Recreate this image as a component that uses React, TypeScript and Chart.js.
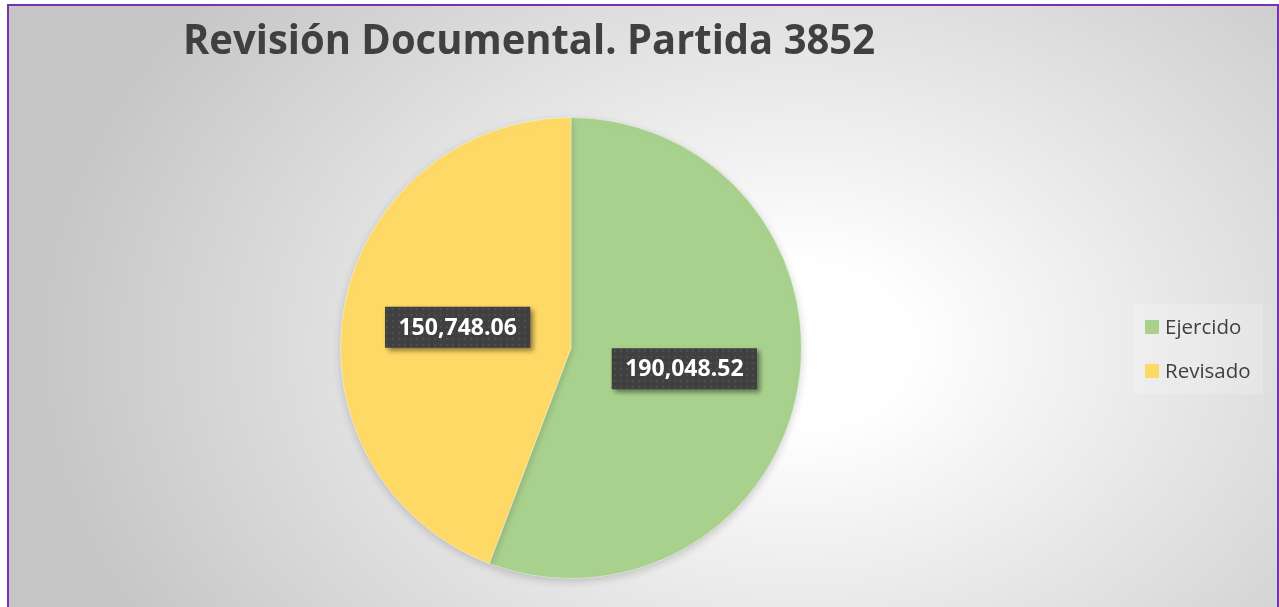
import React, { useEffect, useRef } from "react";
import { Chart, registerables } from "chart.js";

Chart.register(...registerables);

const TITLE = "Revisión Documental. Partida 3852";
const CATEGORIES = ["Ejercido", "Revisado"];
const VALUES = [190048.52, 150748.06];
const COLORS = ["#A9D18E", "#FFD966"];

const fmt = (v: number) =>
  v.toLocaleString("en-US", { minimumFractionDigits: 2, maximumFractionDigits: 2 });

function makeDotPattern(ctx: CanvasRenderingContext2D) {
  const c = document.createElement("canvas");
  c.width = 6;
  c.height = 6;
  const g = c.getContext("2d")!;
  g.fillStyle = "#404040";
  g.fillRect(0, 0, 6, 6);
  g.fillStyle = "#4d4d4d";
  g.fillRect(2, 2, 2, 2);
  return ctx.createPattern(c, "repeat")!;
}

const shadowPlugin = {
  id: "pieShadow",
  beforeDatasetsDraw(chart: any) {
    const ctx: CanvasRenderingContext2D = chart.ctx;
    ctx.save();
    ctx.shadowColor = "rgba(0,0,0,0.18)";
    ctx.shadowBlur = 8;
    ctx.shadowOffsetX = 0;
    ctx.shadowOffsetY = 3;
  },
  afterDatasetsDraw(chart: any) {
    chart.ctx.restore();
  },
};

const overlayPlugin = {
  id: "overlay",
  afterDatasetsDraw(chart: any) {
    const ctx: CanvasRenderingContext2D = chart.ctx;
    const meta = chart.getDatasetMeta(0);
    const pattern = makeDotPattern(ctx);
    meta.data.forEach((arc: any, i: number) => {
      const p = arc.getCenterPoint();
      const txt = fmt(VALUES[i]);
      ctx.save();
      ctx.font = "bold 23px 'Open Sans'";
      const w = ctx.measureText(txt).width;
      const bw = w + 27;
      const bh = 41;
      ctx.shadowColor = "rgba(0,0,0,0.45)";
      ctx.shadowBlur = 5;
      ctx.shadowOffsetX = 3;
      ctx.shadowOffsetY = 3;
      ctx.fillStyle = pattern;
      ctx.fillRect(p.x - bw / 2, p.y - bh / 2, bw, bh);
      ctx.shadowColor = "transparent";
      ctx.fillStyle = "#ffffff";
      ctx.textAlign = "center";
      ctx.textBaseline = "middle";
      ctx.fillText(txt, p.x, p.y + 1);
      ctx.restore();
    });
  },
  afterDraw(chart: any) {
    const ctx: CanvasRenderingContext2D = chart.ctx;
    // title
    ctx.save();
    ctx.font = "bold 42px 'Open Sans'";
    ctx.fillStyle = "#404040";
    ctx.textBaseline = "alphabetic";
    const tw = ctx.measureText(TITLE).width;
    const target = 692;
    const sx = target / tw;
    ctx.translate(183, 54);
    ctx.scale(sx, 1);
    ctx.fillText(TITLE, 0, 0);
    ctx.restore();

    // legend
    ctx.save();
    ctx.fillStyle = "rgba(255,255,255,0.2)";
    ctx.fillRect(1133, 304, 130, 90);
    ctx.font = "20.5px 'Open Sans'";
    ctx.textBaseline = "alphabetic";
    CATEGORIES.forEach((c, i) => {
      const y = 320 + i * 44;
      ctx.fillStyle = COLORS[i];
      ctx.fillRect(1145, y, 14, 14);
      ctx.fillStyle = "#404040";
      ctx.fillText(c, 1165, y + 13.5);
    });
    ctx.restore();
  },
};

export default function App() {
  const ref = useRef<HTMLCanvasElement>(null);
  useEffect(() => {
    if (!ref.current) return;
    const chart = new Chart(ref.current, {
      type: "pie",
      data: {
        labels: CATEGORIES,
        datasets: [
          {
            data: VALUES,
            backgroundColor: COLORS,
            borderColor: "rgba(255,255,255,0.4)",
            borderWidth: 1,
          },
        ],
      },
      options: {
        responsive: false,
        maintainAspectRatio: false,
        animation: false,
        layout: { padding: { top: 117, bottom: 28, left: 340, right: 477 } },
        plugins: {
          legend: { display: false },
          title: { display: false },
          tooltip: { enabled: false },
        },
      },
      plugins: [shadowPlugin, overlayPlugin],
    });
    return () => chart.destroy();
  }, []);

  return (
    <div style={{ position: "fixed", left: 0, top: 0, width: 1279, height: 607, overflow: "hidden" }}>
      <div
        style={{
          position: "absolute",
          left: 7,
          top: 4,
          width: 1272,
          height: 700,
          boxSizing: "border-box",
          border: "2px solid #7434B0",
          background:
            "radial-gradient(ellipse 760px 560px at 790px 340px, #ffffff 0%, #ffffff 14%, #c6c6c6 100%)",
        }}
      />
      <canvas
        ref={ref}
        width={1279}
        height={607}
        style={{ position: "absolute", left: 0, top: 0, width: 1279, height: 607 }}
      />
    </div>
  );
}
